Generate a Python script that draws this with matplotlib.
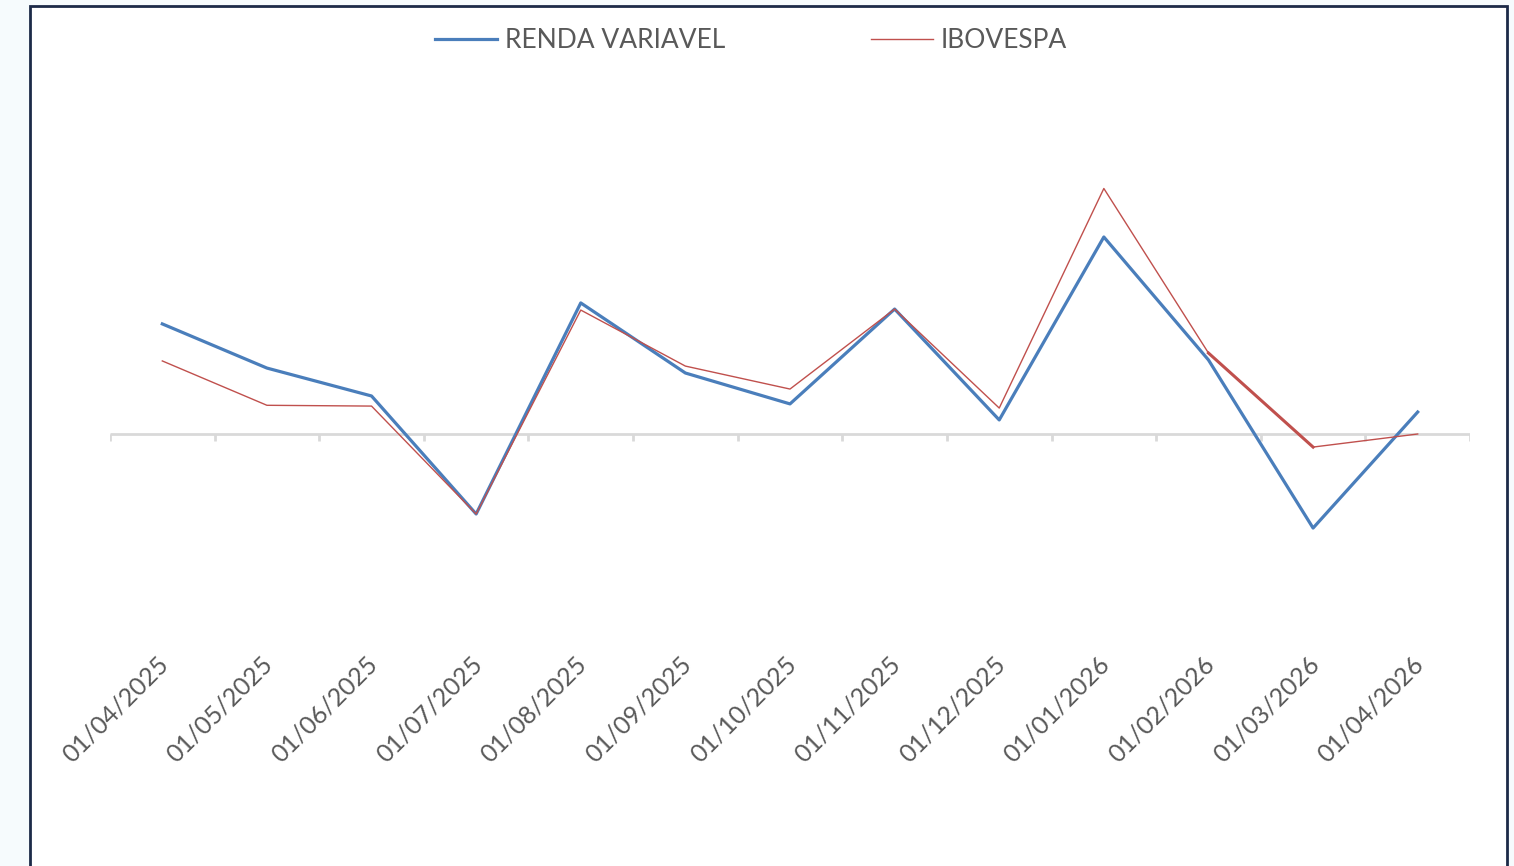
import numpy as np
import matplotlib
matplotlib.use("Agg")
import matplotlib.pyplot as plt
from matplotlib.patches import Rectangle
from matplotlib.transforms import ScaledTranslation

# monthly returns (%)
datas = ["01/04/2025", "01/05/2025", "01/06/2025", "01/07/2025", "01/08/2025",
         "01/09/2025", "01/10/2025", "01/11/2025", "01/12/2025", "01/01/2026",
         "01/02/2026", "01/03/2026", "01/04/2026"]
renda_variavel = [5.56, 3.33, 1.92, -4.04, 6.62, 3.08, 1.52, 6.31, 0.71, 9.95, 3.74, -4.75, 1.11]
ibovespa = [3.69, 1.45, 1.41, -4.04, 6.26, 3.43, 2.27, 6.31, 1.31, 12.4, 4.09, -0.66, 0.0]

azul = "#4a7ebb"
vermelho = "#c0504d"
cinza_txt = "#595959"
cinza_eixo = "#d9d9d9"

plt.rcParams["font.family"] = ["Lato", "DejaVu Sans"]

fig = plt.figure(figsize=(15.14, 8.66), dpi=100)
fig.patch.set_facecolor("#f6fbfd")

# white chart area with dark frame
moldura = Rectangle((30 / 1514, -0.02), (1507 - 30) / 1514, 1 - 6 / 866 + 0.02,
                    transform=fig.transFigure, facecolor="white",
                    edgecolor="#1c2a48", linewidth=2, zorder=-1)
fig.patches.append(moldura)

ax = fig.add_axes([110 / 1514, 1 - 645 / 866, 1360 / 1514, (645 - 80) / 866])
ax.patch.set_visible(False)

x = np.arange(len(datas))
ax.plot(x, renda_variavel, color=azul, lw=2.3, label="RENDA VARIAVEL", zorder=3)
ax.plot(x, ibovespa, color=vermelho, lw=1.0, label="IBOVESPA", zorder=4)
# the Feb->Mar 2026 ibovespa segment is drawn thicker in the original
ax.plot(x[10:12], ibovespa[10:12], color=vermelho, lw=2.2, zorder=4)

# category axis at zero with tick marks between categories
ax.hlines(0, -0.5, len(datas) - 0.5, color=cinza_eixo, lw=2, zorder=1)
ax.vlines(np.arange(len(datas) + 1) - 0.5, -0.35, 0, color=cinza_eixo, lw=2, zorder=1)

ax.set_xlim(-0.5, len(datas) - 0.5)
ax.set_ylim(-(645 - 434) / 19.8, (434 - 80) / 19.8)
ax.set_yticks([])
ax.set_xticks(x)
ax.set_xticklabels(datas, rotation=45, ha="right", rotation_mode="anchor",
                   fontsize=18, color=cinza_txt)
ax.tick_params(axis="x", length=0, pad=5)
desloc = ScaledTranslation(-6 / 100, 0, fig.dpi_scale_trans)
for lbl in ax.get_xticklabels():
    lbl.set_transform(lbl.get_transform() + desloc)
for s in ax.spines.values():
    s.set_visible(False)

fig.legend(loc="center", bbox_to_anchor=(751 / 1514, 1 - 41 / 866), ncol=2,
           frameon=False, fontsize=19, labelcolor=cinza_txt,
           handlelength=2.35, handletextpad=0.3, columnspacing=5.5)

fig.savefig("out.png", dpi=100, facecolor=fig.get_facecolor())
